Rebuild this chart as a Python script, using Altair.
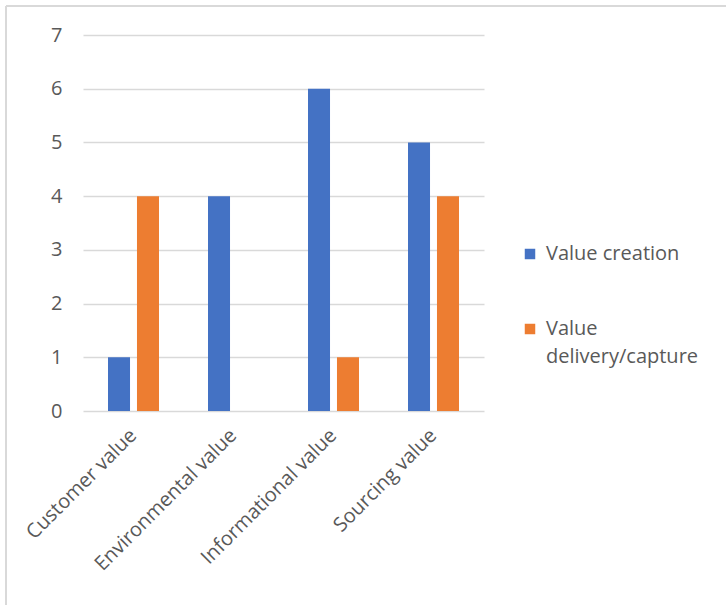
import altair as alt
import pandas as pd

# Counts per value category, split by value stage
categories = ["Customer value", "Environmental value", "Informational value", "Sourcing value"]
series_names = ["Value creation", "Value delivery/capture"]
value_creation = [1, 4, 6, 5]
value_delivery_capture = [4, 0, 1, 4]
y_ticks = [0, 1, 2, 3, 4, 5, 6, 7]

colors = ["#4472C4", "#ED7D31"]
text_color = "#595959"
grid_color = "#D9D9D9"
font = "Open Sans"
fs = 20

rows = []
for cat, a, b in zip(categories, value_creation, value_delivery_capture):
    rows.append({"category": cat, "series": series_names[0], "value": a})
    rows.append({"category": cat, "series": series_names[1], "value": b})
df = pd.DataFrame(rows)

W, H = 401, 376
PAD = {"left": 83, "top": 35, "right": 726 - 83 - W, "bottom": 605 - 35 - H}

bars = alt.Chart(df).mark_bar().encode(
    x=alt.X(
        "category:N",
        sort=categories,
        scale=alt.Scale(paddingInner=0.49, paddingOuter=0.25),
        axis=alt.Axis(
            title=None,
            labelAngle=-45,
            labelAlign="right",
            labelBaseline="middle",
            labelPadding=21,
            ticks=False,
            domain=False,
            grid=False,
            labelFont=font,
            labelFontSize=fs,
            labelColor=text_color,
            labelLimit=400,
        ),
    ),
    xOffset=alt.XOffset("series:N", sort=series_names, scale=alt.Scale(paddingInner=0.24)),
    y=alt.Y(
        "value:Q",
        scale=alt.Scale(domain=[0, 7], nice=False),
        axis=alt.Axis(
            title=None,
            values=y_ticks,
            ticks=False,
            domain=False,
            gridColor=grid_color,
            gridWidth=1.3,
            labelPadding=21,
            labelFont=font,
            labelFontSize=fs,
            labelColor=text_color,
        ),
    ),
    color=alt.Color(
        "series:N",
        sort=series_names,
        scale=alt.Scale(domain=series_names, range=colors),
        legend=alt.Legend(
            title=None,
            orient="none",
            legendX=437,
            legendY=209,
            symbolType="square",
            symbolSize=110,
            symbolStrokeWidth=0,
            labelFont=font,
            labelFontSize=fs,
            labelColor=text_color,
            labelOffset=6,
            rowPadding=55,
            labelLimit=300,
            labelExpr="datum.label == 'Value delivery/capture' ? ['Value', 'delivery/capture'] : datum.label",
        ),
    ),
)

# Light frame along the top and left edges of the figure
frame_top = alt.Chart(pd.DataFrame({"k": [0]})).mark_rule(color=grid_color, strokeWidth=2).encode(
    x=alt.value(-77), x2=alt.value(726 - 83), y=alt.value(-29)
)
frame_left = alt.Chart(pd.DataFrame({"k": [0]})).mark_rule(color=grid_color, strokeWidth=2).encode(
    x=alt.value(-77), y=alt.value(-29), y2=alt.value(605 - 35)
)

chart = (
    alt.layer(bars, frame_top, frame_left)
    .properties(
        width=W,
        height=H,
        padding=PAD,
        autosize=alt.AutoSizeParams(type="none"),
        background="white",
    )
    .configure(style={"guide-label": {"lineHeight": 28}})
    .configure_view(stroke=None)
)

chart.save("out.html", embed_options={"renderer": "svg", "actions": False})
